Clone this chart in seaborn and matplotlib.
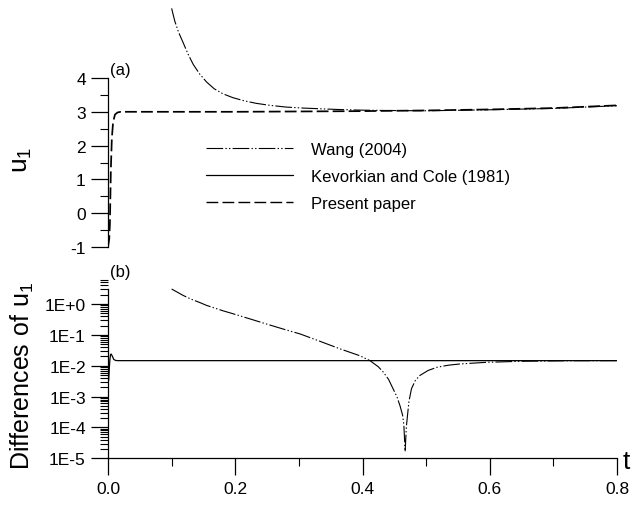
import matplotlib
matplotlib.use("Agg")
import matplotlib.pyplot as plt
import numpy as np
import pandas as pd
import seaborn as sns
from matplotlib.lines import Line2D
from matplotlib.ticker import FixedLocator, NullFormatter, LogLocator

# ---------------- data ----------------
t_present = [0.0, 0.002, 0.003, 0.0045, 0.006, 0.008, 0.011, 0.015, 0.02, 0.1, 0.2,
             0.3, 0.4, 0.45, 0.5, 0.6, 0.7, 0.75, 0.8]
u_present = [-1.0, -0.75, -0.3, 1.3, 2.2, 2.7, 2.92, 2.98, 3.0, 3.0, 3.0,
             3.01, 3.02, 3.03, 3.04, 3.07, 3.11, 3.15, 3.19]

t_wang = [0.100, 0.105, 0.111, 0.118, 0.126, 0.134, 0.144, 0.155, 0.167, 0.181,
          0.196, 0.213, 0.233, 0.255, 0.280, 0.307, 0.333, 0.359, 0.395, 0.432,
          0.5, 0.6, 0.7, 0.8]
u_wang = [6.06, 5.68, 5.35, 5.05, 4.70, 4.40, 4.12, 3.88, 3.68, 3.53,
          3.42, 3.33, 3.25, 3.19, 3.14, 3.11, 3.09, 3.07, 3.05, 3.04,
          3.03, 3.06, 3.10, 3.18]

t_kc_diff = [0.001, 0.002, 0.003, 0.004, 0.005, 0.007, 0.009, 0.012, 0.016, 0.03,
             0.2, 0.4, 0.6, 0.8]
kc_diff = [0.0033, 0.008, 0.016, 0.023, 0.024, 0.020, 0.016, 0.0148, 0.0146, 0.0146,
           0.0146, 0.0146, 0.0146, 0.0146]

t_wang_diff = [0.100, 0.118, 0.130, 0.145, 0.155, 0.181, 0.197, 0.225, 0.249, 0.275,
               0.302, 0.333, 0.365, 0.396, 0.412, 0.425, 0.433, 0.441, 0.448, 0.454,
               0.459, 0.463, 0.465, 0.467, 0.469, 0.4707, 0.473, 0.477, 0.483, 0.490,
               0.503, 0.517, 0.535, 0.553, 0.595, 0.648, 0.727, 0.800]
wang_diff = [3.06, 1.9, 1.45, 1.1, 0.9, 0.6, 0.48, 0.32, 0.225, 0.155,
             0.107, 0.062, 0.035, 0.021, 0.0145, 0.0092, 0.0061, 0.0036, 0.0018, 0.0010,
             0.0005, 0.00025, 0.00012, 0.0000165, 0.00011, 0.00024, 0.0007, 0.0018, 0.0033, 0.0048,
             0.0070, 0.0089, 0.0104, 0.0114, 0.0129, 0.0139, 0.0145, 0.0146]

legend_labels = ["Wang (2004)", "Kevorkian and Cole (1981)", "Present paper"]
x_ticks = [0.0, 0.2, 0.4, 0.6, 0.8]
x_tick_labels = ["0.0", "0.2", "0.4", "0.6", "0.8"]
ya_ticks = [-1, 0, 1, 2, 3, 4]
ya_tick_labels = ["-1", "0", "1", "2", "3", "4"]
yb_ticks = [1e-5, 1e-4, 1e-3, 1e-2, 1e-1, 1e0]
yb_tick_labels = ["1E-5", "1E-4", "1E-3", "1E-2", "1E-1", "1E+0"]

df_present = pd.DataFrame({"t": t_present, "u": u_present})
df_wang = pd.DataFrame({"t": t_wang, "u": u_wang})
df_kc_d = pd.DataFrame({"t": t_kc_diff, "d": kc_diff})
df_wang_d = pd.DataFrame({"t": t_wang_diff, "d": wang_diff})

# ---------------- style ----------------
sns.set_style("ticks")
plt.rcParams["font.family"] = ["Liberation Sans", "DejaVu Sans"]
plt.rcParams["lines.scale_dashes"] = False
plt.rcParams["axes.unicode_minus"] = False
plt.rcParams["mathtext.fontset"] = "custom"
plt.rcParams["mathtext.rm"] = "Liberation Sans"
for key in ["text.color", "axes.labelcolor", "xtick.color", "ytick.color",
            "xtick.labelcolor", "ytick.labelcolor", "axes.edgecolor"]:
    plt.rcParams[key] = "black"

W, H = 639, 506
fig = plt.figure(figsize=(W / 100, H / 100), dpi=100)


def rect(x0, y0, x1, y1):
    return [x0 / W, 1 - y1 / H, (x1 - x0) / W, (y1 - y0) / H]


WANG_LS = (0, (12, 1.6, 1, 1.6, 1, 1.6))
PRES_LS = (0, (8.5, 3))

ax_a = fig.add_axes(rect(108, 0, 617, 248))
ax_b = fig.add_axes(rect(108, 280, 617, 459.3))
for ax in (ax_a, ax_b):
    ax.set_facecolor("none")

# ---- panel (a)
sns.lineplot(data=df_wang, x="t", y="u", ax=ax_a, color="black", lw=0.8,
             linestyle=WANG_LS, sort=False, estimator=None)
sns.lineplot(data=df_present, x="t", y="u", ax=ax_a, color="black", lw=1.25,
             linestyle=PRES_LS, sort=False, estimator=None)
ax_a.set_xlim(0, 0.8)
ax_a.set_ylim(-1, 4 + 79 / 33.8)
ax_a.spines[["top", "right", "bottom"]].set_visible(False)
ax_a.spines["left"].set_bounds(-1, 4)
ax_a.set_xticks([])
ax_a.yaxis.set_major_locator(FixedLocator(ya_ticks))
ax_a.set_yticklabels(ya_tick_labels)
ax_a.yaxis.set_minor_locator(FixedLocator([-0.5, 0.5, 1.5, 2.5, 3.5]))
ax_a.set_xlabel("")
ax_a.set_ylabel("")
ax_a.text(110 / W, 1 - 71 / H, "(a)", transform=fig.transFigure, fontsize=12,
          ha="left", va="center")

# ---- panel (b)
sns.lineplot(data=df_kc_d, x="t", y="d", ax=ax_b, color="black", lw=0.9,
             linestyle="-", sort=False, estimator=None)
sns.lineplot(data=df_wang_d, x="t", y="d", ax=ax_b, color="black", lw=0.8,
             linestyle=WANG_LS, sort=False, estimator=None)
ax_b.set_yscale("log")
ax_b.set_xlim(0, 0.8)
ax_b.set_ylim(1e-5, 10 ** (-5 + 179.3 / 30.86))
ax_b.spines[["top", "right"]].set_visible(False)
ax_b.spines["left"].set_bounds(1e-5, 3)
ax_b.spines["bottom"].set_bounds(0, 0.8)
ax_b.xaxis.set_major_locator(FixedLocator(x_ticks))
ax_b.set_xticklabels(x_tick_labels)
ax_b.xaxis.set_minor_locator(FixedLocator([0.1, 0.3, 0.5, 0.7]))
ax_b.yaxis.set_major_locator(FixedLocator(yb_ticks))
ax_b.set_yticklabels(yb_tick_labels)
ax_b.yaxis.set_minor_locator(LogLocator(base=10, subs=np.arange(2, 10), numticks=20))
ax_b.yaxis.set_minor_formatter(NullFormatter())
ax_b.set_xlabel("")
ax_b.set_ylabel("")
ax_b.text(110 / W, 1 - 272 / H, "(b)", transform=fig.transFigure, fontsize=12,
          ha="left", va="center")

for ax in (ax_a, ax_b):
    for s in ax.spines.values():
        s.set_linewidth(0.9)
        s.set_color("black")
    ax.tick_params(which="major", direction="out", length=12.5, width=0.9,
                   labelsize=12.5, pad=3.5, color="black", labelcolor="black")
    ax.tick_params(which="minor", direction="out", length=6, width=0.8, color="black")

# axis labels
fig.text(22 / W, 1 - 160 / H, r"$\mathregular{u_1}$", rotation=90, fontsize=19,
         ha="center", va="center", color="black")
fig.text(22 / W, 1 - 376 / H, r"$\mathregular{Differences\ of\ u_1}$", rotation=90,
         fontsize=18, ha="center", va="center", color="black")
fig.text(623 / W, 1 - 462 / H, "t", fontsize=19, ha="left", va="center", color="black")

# legend
handles = [Line2D([], [], color="black", lw=0.8, linestyle=WANG_LS),
           Line2D([], [], color="black", lw=0.9, linestyle="-"),
           Line2D([], [], color="black", lw=1.0, linestyle=PRES_LS)]
leg = fig.legend(handles, legend_labels, loc="upper left",
                 bbox_to_anchor=(206 / W, 1 - 143 / H), frameon=False, fontsize=12,
                 handlelength=5.2, handletextpad=1.1, labelspacing=0.72, borderpad=0,
                 borderaxespad=0)
for txt in leg.get_texts():
    txt.set_color("black")

fig.savefig("out.png", dpi=100)
